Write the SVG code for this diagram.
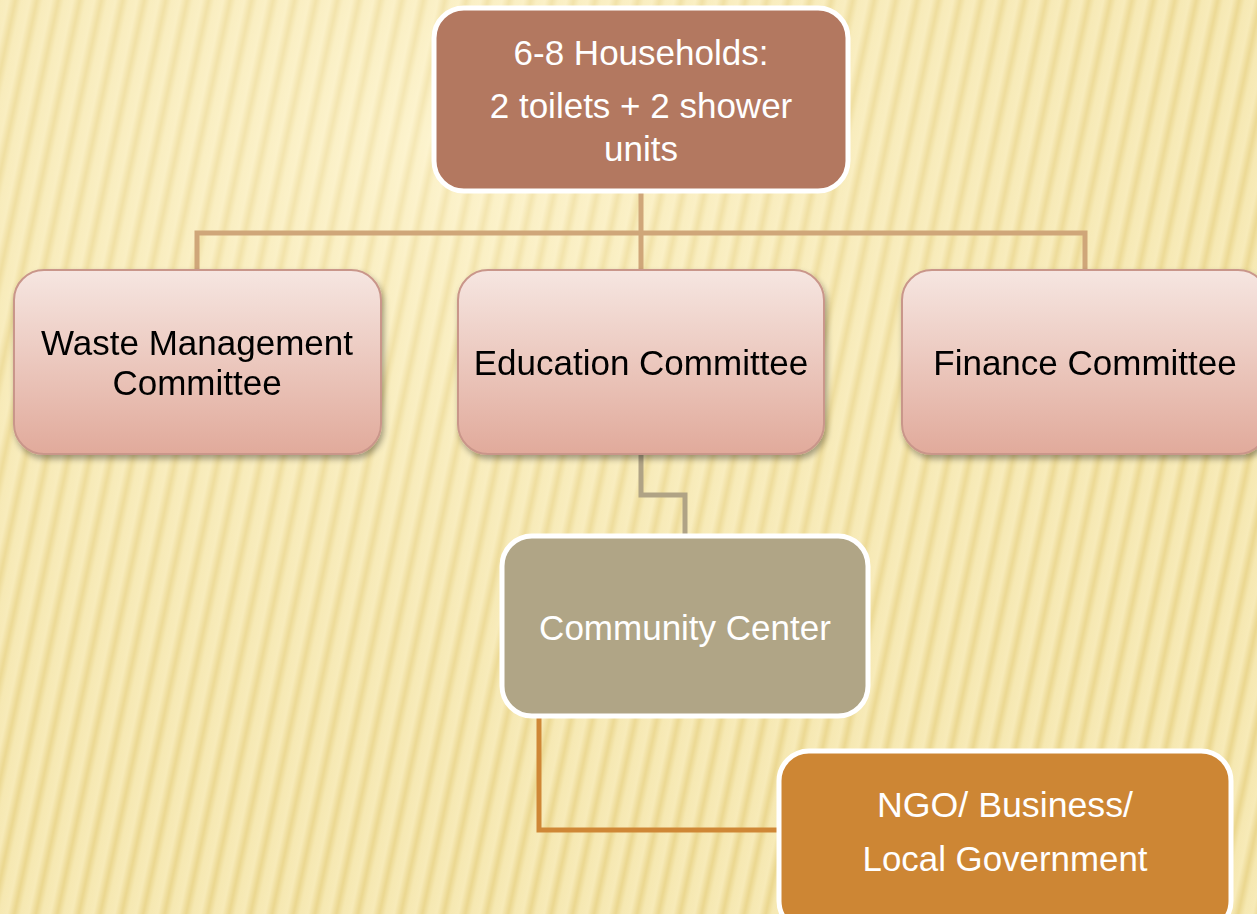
<svg xmlns="http://www.w3.org/2000/svg" width="1257" height="914" viewBox="0 0 1257 914">
<defs>
<linearGradient id="stripe" x1="0" y1="0" x2="1" y2="0">
<stop offset="0" stop-color="#f9edbb"/>
<stop offset="0.4" stop-color="#fbf0c3"/>
<stop offset="0.72" stop-color="#ebd78f"/>
<stop offset="1" stop-color="#f9edbb"/>
</linearGradient>
<pattern id="bgp" patternUnits="userSpaceOnUse" width="21" height="40" patternTransform="rotate(12)">
<rect width="21" height="40" fill="url(#stripe)"/>
</pattern>
<radialGradient id="glow" cx="0.35" cy="0.15" r="0.9">
<stop offset="0" stop-color="#fff8dc" stop-opacity="0.5"/>
<stop offset="1" stop-color="#e8d48a" stop-opacity="0.2"/>
</radialGradient>
<linearGradient id="pink" x1="0" y1="0" x2="0" y2="1">
<stop offset="0" stop-color="#f6e6e1"/>
<stop offset="1" stop-color="#e1aa9b"/>
</linearGradient>
<filter id="sh" x="-10%" y="-10%" width="125%" height="130%">
<feGaussianBlur in="SourceAlpha" stdDeviation="3"/>
<feOffset dx="2" dy="4"/>
<feComponentTransfer><feFuncA type="linear" slope="0.35"/></feComponentTransfer>
<feMerge><feMergeNode/><feMergeNode in="SourceGraphic"/></feMerge>
</filter>
</defs>
<style>
.lbl{font-family:"Liberation Sans",Arial,sans-serif;font-size:35px;text-anchor:middle}
.w{fill:#ffffff}
.k{fill:#000000}
.pinkbox{fill:url(#pink);stroke:#c9968a;stroke-width:2}
.conn{fill:none;stroke-width:5;stroke-linejoin:miter}
</style>
<rect width="1257" height="914" fill="url(#bgp)"/>
<rect width="1257" height="914" fill="url(#glow)"/>

<g id="connectors">
<path class="conn" stroke="#cfa679" d="M641 192 V270 M197 270 V233 H1085 V270"/>
<path class="conn" stroke="#b0a385" d="M641 455 V495 H685 V535"/>
<path class="conn" stroke="#cf8736" d="M539 717 V830 H780"/>
</g>

<g id="households">
<rect x="434" y="8" width="414" height="183" rx="30" fill="#b37860" stroke="#ffffff" stroke-width="5"/>
<text class="lbl w" x="641" y="65" font-size="36">6-8 Households:</text>
<text class="lbl w" x="641" y="118" font-size="36">2 toilets + 2 shower</text>
<text class="lbl w" x="641" y="161" font-size="36">units</text>
</g>

<g id="waste" filter="url(#sh)">
<rect class="pinkbox" x="14" y="270" width="367" height="184" rx="30"/>
<text class="lbl k" x="197" y="355">Waste Management</text>
<text class="lbl k" x="197" y="395">Committee</text>
</g>

<g id="education" filter="url(#sh)">
<rect class="pinkbox" x="458" y="270" width="366" height="184" rx="30"/>
<text class="lbl k" x="641" y="375">Education Committee</text>
</g>

<g id="finance" filter="url(#sh)">
<rect class="pinkbox" x="902" y="270" width="366" height="184" rx="30"/>
<text class="lbl k" x="1085" y="375">Finance Committee</text>
</g>

<g id="community">
<rect x="502" y="536" width="366" height="180" rx="30" fill="#b0a586" stroke="#ffffff" stroke-width="5"/>
<text class="lbl w" x="685" y="640">Community Center</text>
</g>

<g id="ngo">
<rect x="779" y="751" width="452" height="180" rx="30" fill="#cd8634" stroke="#ffffff" stroke-width="5"/>
<text class="lbl w" x="1005" y="817" font-size="36" textLength="256" lengthAdjust="spacingAndGlyphs">NGO/ Business/</text>
<text class="lbl w" x="1005" y="871" font-size="36" textLength="285" lengthAdjust="spacingAndGlyphs">Local Government</text>
</g>
</svg>
